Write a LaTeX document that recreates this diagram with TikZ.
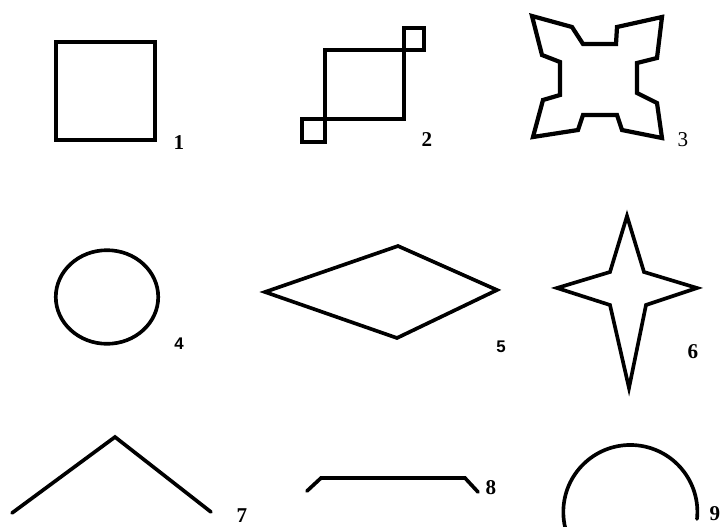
\documentclass[tikz,border=0pt]{standalone}
\usepackage{fontspec}
\setmainfont{Liberation Serif}
\newfontfamily\labsans{Liberation Sans}
\usetikzlibrary{positioning}

\begin{document}
\begin{tikzpicture}[
    x=0.025cm, y=-0.025cm,
    figline/.style={line width=3pt, line join=miter, line cap=round},
    thinline/.style={line width=2.6pt, line join=miter, line cap=round},
    numlabel/.style={font=\fontsize{15}{17}\selectfont\bfseries, inner sep=0pt},
]

% Page
\clip (0,0) rectangle (725,527);

% 1: square
\draw[figline] (56,42) rectangle (155,140);
\node[numlabel] (lab1) at (179,143) {1};

% 2: square with two small corner squares
\draw[figline] (325,50) rectangle (404,119);
\draw[figline] (404,28) rectangle (424,50);
\draw[figline] (302,119) rectangle (325,142);
\node[numlabel] (lab2) at (427,140) {2};

% 3: notched star
\draw[figline] (532,16) -- (572,27) -- (583,44) -- (616,44) -- (617,27) -- (662,17)
    -- (657,58) -- (637,63) -- (637,93) -- (657,103) -- (662,138)
    -- (622,130) -- (617,115) -- (583,115) -- (578,130) -- (533,137)
    -- (543,100) -- (560,95) -- (560,62) -- (542,55) -- cycle;
\node[numlabel, font=\fontsize{15}{17}\selectfont] (lab3) at (683,140) {3};

% 4: circle
\draw[thinline] (107,297) ellipse [x radius=1.28cm, y radius=1.17cm];
\node[numlabel, font=\fontsize{12}{14}\labsans\bfseries] (lab4) at (179,344) {4};

% 5: rhombus
\draw[thinline] (265,292) -- (398,246) -- (497,290) -- (397,338) -- cycle;
\node[numlabel, font=\fontsize{12}{14}\labsans\bfseries] (lab5) at (501,347) {5};

% 6: four-pointed star
\draw[thinline] (627,216) -- (644,272) -- (697,288) -- (646,305) -- (629,388)
    -- (610,305) -- (557,288) -- (610,272) -- cycle;
\node[numlabel] (lab6) at (693,352) {6};

% 7: angle
\draw[thinline] (12,513) -- (115,437) -- (211,512);
\node[numlabel] (lab7) at (242,516) {7};

% 8: bent bar
\draw[thinline] (307,491) -- (321,478) -- (465,478) -- (478,492);
\node[numlabel] (lab8) at (491,488) {8};

% 9: open arc
\draw[thinline] (697,519) arc[start angle=-6, end angle=200, radius=1.675cm];
\node[numlabel] (lab9) at (715,514) {9};

\end{tikzpicture}
\end{document}
